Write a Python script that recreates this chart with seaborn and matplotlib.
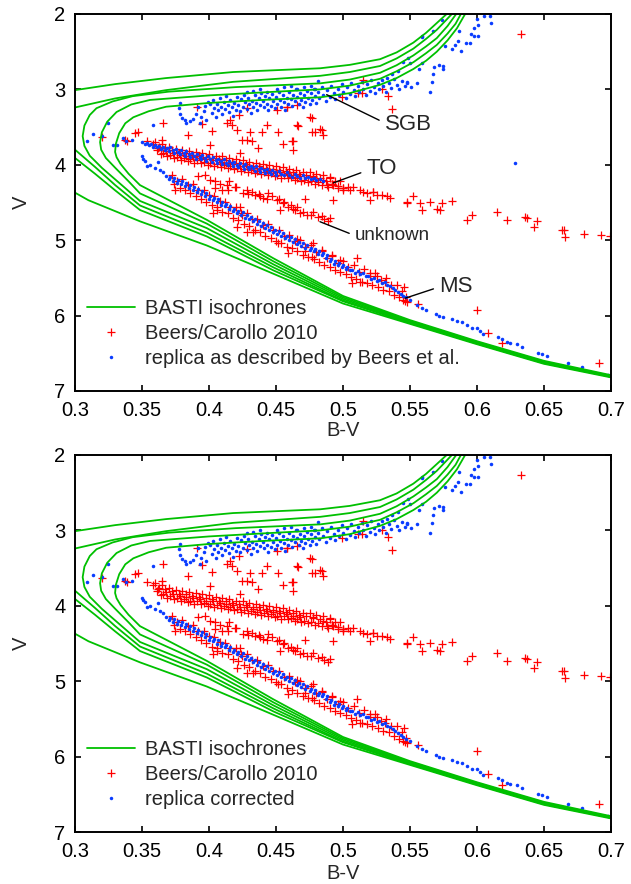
import pandas as pd
import matplotlib
matplotlib.use('Agg')
import matplotlib.pyplot as plt
import seaborn as sns
from matplotlib.lines import Line2D

# --- BASTI isochrones: lower MS -> turnoff -> subgiant branch (B-V, V)
iso0_bv = [0.70, 0.65, 0.60, 0.55, 0.50, 0.45, 0.3983, 0.3485, 0.31, 0.30, 0.29]
iso0_v = [6.82, 6.64, 6.38, 6.11, 5.84, 5.46, 5.07, 4.75, 4.47, 4.37, 4.28]
iso1_bv = [0.70, 0.65, 0.60, 0.55, 0.50, 0.448, 0.3983, 0.3485, 0.33, 0.315, 0.30, 0.285, 0.280,
           0.284, 0.30, 0.33, 0.368, 0.418, 0.483, 0.505, 0.5276, 0.540, 0.5525, 0.562, 0.570, 0.5786]
iso1_v = [6.81, 6.63, 6.37, 6.10, 5.81, 5.40, 4.95, 4.60, 4.34, 4.12, 3.91, 3.62, 3.40,
          3.17, 3.01, 2.93, 2.85, 2.77, 2.72, 2.675, 2.60, 2.51, 2.38, 2.25, 2.12, 1.98]
iso2_bv = [0.70, 0.65, 0.60, 0.55, 0.50, 0.448, 0.3983, 0.3485, 0.33, 0.315, 0.30, 0.292, 0.290,
           0.293, 0.30, 0.33, 0.368, 0.418, 0.483, 0.505, 0.5276, 0.540, 0.5525, 0.562, 0.570, 0.577, 0.5823]
iso2_v = [6.81, 6.63, 6.37, 6.09, 5.80, 5.36, 4.90, 4.54, 4.27, 4.03, 3.80, 3.62, 3.45,
          3.32, 3.24, 3.12, 3.01, 2.90, 2.82, 2.77, 2.69, 2.59, 2.46, 2.33, 2.21, 2.08, 1.98]
iso3_bv = [0.70, 0.65, 0.60, 0.55, 0.50, 0.448, 0.3983, 0.3485, 0.3336, 0.320, 0.311, 0.307, 0.3057,
           0.307, 0.311, 0.316, 0.328, 0.343, 0.37, 0.42, 0.483, 0.505, 0.5276, 0.540, 0.5525, 0.562,
           0.570, 0.578, 0.5853]
iso3_v = [6.80, 6.62, 6.36, 6.08, 5.78, 5.32, 4.84, 4.48, 4.25, 4.04, 3.88, 3.75, 3.62,
          3.48, 3.34, 3.25, 3.16, 3.09, 3.03, 2.97, 2.92, 2.87, 2.78, 2.68, 2.55, 2.43,
          2.32, 2.16, 1.98]
iso4_bv = [0.70, 0.65, 0.60, 0.55, 0.50, 0.448, 0.3983, 0.3485, 0.340, 0.330, 0.323, 0.3195, 0.3187,
           0.320, 0.324, 0.331, 0.342, 0.356, 0.40, 0.44, 0.483, 0.505, 0.5276, 0.540, 0.5525, 0.562,
           0.570, 0.578, 0.584, 0.5886]
iso4_v = [6.80, 6.61, 6.35, 6.07, 5.76, 5.28, 4.78, 4.38, 4.22, 4.04, 3.91, 3.80, 3.70,
          3.57, 3.43, 3.30, 3.20, 3.14, 3.08, 3.04, 3.00, 2.95, 2.86, 2.76, 2.64, 2.52,
          2.41, 2.26, 2.13, 1.98]
iso5_bv = [0.70, 0.65, 0.60, 0.55, 0.50, 0.448, 0.3983, 0.3485, 0.340, 0.334, 0.331, 0.3299, 0.3305,
           0.333, 0.3375, 0.3435, 0.355, 0.368, 0.40, 0.44, 0.483, 0.505, 0.5276, 0.540, 0.5525, 0.562,
           0.570, 0.578, 0.585, 0.5918]
iso5_v = [6.79, 6.60, 6.34, 6.06, 5.74, 5.24, 4.73, 4.27, 4.12, 3.99, 3.90, 3.83, 3.72,
          3.58, 3.45, 3.37, 3.29, 3.23, 3.18, 3.14, 3.105, 3.05, 2.94, 2.85, 2.73, 2.62,
          2.50, 2.35, 2.19, 1.98]

# --- Beers/Carollo 2010 (red crosses), same in both panels
red_sgb = [(0.4157, 3.41), (0.4169, 3.47), (0.4207, 3.54), (0.4020, 3.55), (0.3846, 3.60), (0.4306, 3.56),
           (0.4244, 3.67), (0.4281, 3.67), (0.4318, 3.69), (0.4393, 3.57), (0.4431, 3.47), (0.4518, 3.56),
           (0.4667, 3.49), (0.4754, 3.36), (0.4766, 3.57), (0.4841, 3.54), (0.4853, 3.61), (0.4555, 3.72),
           (0.4617, 3.69), (0.4630, 3.80), (0.4368, 3.78), (0.4008, 3.74), (0.4231, 3.85), (0.3535, 3.69),
           (0.3585, 3.72), (0.3622, 3.78), (0.3647, 3.67), (0.4505, 3.27), (0.4580, 3.23), (0.4654, 3.21),
           (0.4281, 3.25), (0.4227, 3.34), (0.5152, 2.88), (0.5289, 2.99), (0.5338, 3.09), (0.5363, 3.26),
           (0.4990, 3.10), (0.5114, 3.05), (0.5139, 3.05), (0.4766, 3.38), (0.4828, 3.52), (0.4790, 3.56),
           (0.3199, 3.63), (0.3386, 3.69), (0.3473, 3.56), (0.3450, 3.58), (0.3373, 3.67), (0.3659, 3.45),
           (0.3908, 3.23), (0.4579, 3.23), (0.4132, 3.45), (0.4654, 3.47), (0.4629, 3.69), (0.3950, 3.46)]
red_to = [(0.360, 3.70), (0.361, 3.81), (0.3625, 3.76), (0.364, 3.86),
          (0.365, 3.73), (0.366, 3.84), (0.3675, 3.78), (0.368, 3.82), (0.369, 3.89),
          (0.370, 3.76), (0.371, 3.87), (0.3725, 3.81), (0.373, 3.84), (0.374, 3.91),
          (0.375, 3.79), (0.376, 3.90), (0.3775, 3.84), (0.378, 3.87), (0.379, 3.94),
          (0.380, 3.80), (0.381, 3.91), (0.3825, 3.85), (0.383, 3.88), (0.384, 3.95),
          (0.385, 3.82), (0.386, 3.93), (0.3875, 3.87), (0.388, 3.90), (0.389, 3.97),
          (0.390, 3.83), (0.391, 3.94), (0.3925, 3.88), (0.393, 3.91), (0.394, 3.98),
          (0.395, 3.85), (0.396, 3.96), (0.3975, 3.90), (0.398, 3.93), (0.399, 4.00),
          (0.400, 3.86), (0.401, 3.97), (0.4025, 3.91), (0.403, 3.94), (0.404, 4.01),
          (0.405, 3.88), (0.406, 3.99), (0.4075, 3.93), (0.408, 3.96), (0.409, 4.03),
          (0.410, 3.89), (0.411, 4.00), (0.4125, 3.94), (0.413, 3.97), (0.414, 4.04),
          (0.415, 3.91), (0.416, 4.02), (0.4175, 3.96), (0.418, 3.99), (0.419, 4.06),
          (0.420, 3.93), (0.421, 4.04), (0.4225, 3.98), (0.423, 4.01), (0.424, 4.08),
          (0.425, 3.94), (0.426, 4.05), (0.4275, 3.99), (0.428, 4.02), (0.429, 4.09),
          (0.430, 3.96), (0.431, 4.07), (0.4325, 4.01), (0.433, 4.04), (0.434, 4.11),
          (0.435, 3.97), (0.436, 4.08), (0.4375, 4.02), (0.438, 4.05), (0.439, 4.12),
          (0.440, 3.99), (0.441, 4.10), (0.4425, 4.04), (0.443, 4.07), (0.444, 4.14),
          (0.445, 4.00), (0.446, 4.11), (0.4475, 4.05), (0.448, 4.08), (0.449, 4.15),
          (0.450, 4.02), (0.451, 4.13), (0.4525, 4.07), (0.453, 4.10), (0.454, 4.17),
          (0.455, 4.03), (0.456, 4.14), (0.4575, 4.08), (0.458, 4.11), (0.459, 4.18),
          (0.460, 4.05), (0.461, 4.16), (0.4625, 4.10), (0.463, 4.13), (0.464, 4.20),
          (0.465, 4.07), (0.466, 4.18), (0.4675, 4.12), (0.468, 4.15), (0.469, 4.22),
          (0.470, 4.09), (0.471, 4.20), (0.4725, 4.14), (0.474, 4.23),
          (0.475, 4.10), (0.476, 4.21), (0.4775, 4.15), (0.479, 4.25),
          (0.480, 4.12), (0.481, 4.23), (0.4825, 4.17), (0.484, 4.27),
          (0.485, 4.14), (0.487, 4.22), (0.489, 4.30), (0.490, 4.16), (0.492, 4.25),
          (0.494, 4.21), (0.496, 4.28), (0.498, 4.22), (0.500, 4.31)]
red_tail = [(0.4778, 4.16), (0.4853, 4.20), (0.4903, 4.18), (0.4928, 4.27), (0.5002, 4.31), (0.5052, 4.33),
            (0.5077, 4.29), (0.5152, 4.36), (0.5226, 4.36), (0.5289, 4.40), (0.5351, 4.44), (0.5475, 4.49),
            (0.5525, 4.42), (0.5575, 4.51), (0.5649, 4.49), (0.5736, 4.51), (0.5811, 4.48), (0.5587, 4.60),
            (0.5699, 4.58), (0.5724, 4.60), (0.5960, 4.67), (0.6147, 4.62), (0.6222, 4.73), (0.6358, 4.69),
            (0.6373, 4.70), (0.6445, 4.75), (0.6425, 4.82), (0.6632, 4.86), (0.6650, 4.87), (0.6657, 4.96),
            (0.6799, 4.92), (0.6923, 4.93), (0.6993, 4.94), (0.5923, 4.73), (0.5201, 4.47), (0.5475, 4.51),
            (0.4878, 4.27), (0.4916, 4.25), (0.4965, 4.31), (0.5003, 4.33), (0.5040, 4.30), (0.5127, 4.33),
            (0.5177, 4.38), (0.5227, 4.36), (0.5252, 4.40), (0.5326, 4.42)]
red_unknown = [(0.392, 4.15), (0.397, 4.14), (0.401, 4.20), (0.4045, 4.22), (0.408, 4.25), (0.4045, 4.31),
               (0.4132, 4.27), (0.4194, 4.29), (0.4095, 4.33), (0.4144, 4.34), (0.4256, 4.38), (0.4294, 4.39),
               (0.4343, 4.40), (0.4381, 4.42), (0.4430, 4.45), (0.4468, 4.42), (0.4505, 4.47), (0.4443, 4.37),
               (0.4555, 4.51), (0.4592, 4.56), (0.4642, 4.60), (0.4679, 4.64), (0.4729, 4.67), (0.4779, 4.62),
               (0.4816, 4.69), (0.4841, 4.68), (0.4891, 4.75), (0.4717, 4.45), (0.4630, 4.58), (0.4530, 4.60),
               (0.415, 4.22), (0.420, 4.30), (0.428, 4.34), (0.432, 4.36), (0.437, 4.39), (0.440, 4.44),
               (0.452, 4.45), (0.456, 4.49), (0.461, 4.54), (0.466, 4.56), (0.470, 4.63), (0.476, 4.66),
               (0.486, 4.72), (0.490, 4.70), (0.4928, 4.47)]
red_ms = [(0.372, 4.14), (0.374, 4.26), (0.376, 4.22), (0.378, 4.31),
          (0.380, 4.19), (0.382, 4.33), (0.384, 4.27), (0.386, 4.37),
          (0.388, 4.25), (0.390, 4.41), (0.392, 4.34), (0.394, 4.45),
          (0.396, 4.33), (0.398, 4.49), (0.400, 4.40), (0.402, 4.54),
          (0.404, 4.41), (0.406, 4.56), (0.408, 4.48), (0.410, 4.62),
          (0.412, 4.49), (0.414, 4.64), (0.416, 4.56), (0.418, 4.70),
          (0.420, 4.56), (0.422, 4.73), (0.424, 4.64), (0.426, 4.78),
          (0.428, 4.64), (0.430, 4.81), (0.432, 4.72), (0.434, 4.86),
          (0.436, 4.72), (0.438, 4.89), (0.440, 4.80), (0.442, 4.94),
          (0.444, 4.79), (0.446, 4.97), (0.448, 4.87), (0.450, 5.01),
          (0.452, 4.86), (0.454, 5.04), (0.456, 4.94), (0.458, 5.09),
          (0.460, 4.93), (0.462, 5.11), (0.464, 5.01), (0.466, 5.15),
          (0.468, 5.00), (0.470, 5.19), (0.472, 5.09), (0.474, 5.22),
          (0.476, 5.07), (0.478, 5.25), (0.480, 5.16), (0.482, 5.29),
          (0.484, 5.14), (0.486, 5.33), (0.488, 5.23), (0.490, 5.36),
          (0.492, 5.21), (0.494, 5.39), (0.496, 5.30), (0.498, 5.42),
          (0.500, 5.27), (0.502, 5.45), (0.504, 5.36), (0.506, 5.49),
          (0.508, 5.33), (0.510, 5.51), (0.512, 5.42), (0.514, 5.55),
          (0.516, 5.38), (0.518, 5.57), (0.520, 5.47), (0.522, 5.60),
          (0.524, 5.44), (0.526, 5.62), (0.528, 5.53), (0.530, 5.66),
          (0.532, 5.50), (0.534, 5.68), (0.536, 5.60), (0.538, 5.73),
          (0.540, 5.59), (0.542, 5.76), (0.544, 5.68), (0.546, 5.80), (0.5457, 5.62), (0.547, 5.75),
          (0.3746, 4.33), (0.4032, 4.64), (0.4057, 4.60), (0.4207, 4.82), (0.4281, 4.89), (0.4331, 4.89),
          (0.4244, 4.67), (0.4231, 4.56), (0.4518, 5.04), (0.4592, 5.17), (0.4654, 4.98), (0.4717, 5.15),
          (0.4766, 5.22), (0.4779, 5.04), (0.4841, 5.13), (0.4916, 5.20), (0.4978, 5.26), (0.5102, 5.24),
          (0.5065, 5.57), (0.5127, 5.55), (0.5202, 5.44), (0.5252, 5.48), (0.5314, 5.55), (0.5475, 5.82),
          (0.5450, 5.79)]
red_outliers = [(0.6328, 2.26), (0.5998, 5.92), (0.6084, 6.23), (0.6184, 6.37), (0.6913, 6.63), (0.5562, 5.84)]

# --- replica (blue dots)
blue_left = [(0.3087, 3.69), (0.3137, 3.59), (0.3199, 3.62), (0.3249, 3.45), (0.3286, 3.74), (0.3310, 3.74),
             (0.3360, 3.65), (0.3380, 3.68), (0.3423, 3.67), (0.3584, 3.47), (0.3497, 3.89), (0.3510, 3.92),
             (0.3520, 3.95), (0.3540, 4.02), (0.3560, 4.00), (0.3622, 3.96), (0.3634, 4.07), (0.3660, 4.10),
             (0.3595, 4.04)]
blue_sgb = [(0.3775, 3.25), (0.3784, 3.18), (0.3786, 3.33), (0.380, 3.38), (0.382, 3.41), (0.383, 3.45),
            (0.386, 3.42), (0.388, 3.39), (0.390, 3.33), (0.392, 3.23), (0.394, 3.36), (0.396, 3.29),
            (0.398, 3.40), (0.399, 3.17), (0.393, 3.44), (0.397, 3.22),
            (0.401, 3.20), (0.402, 3.31), (0.403, 3.14), (0.404, 3.25), (0.405, 3.36), (0.406, 3.19),
            (0.407, 3.28), (0.408, 3.11), (0.409, 3.23), (0.410, 3.33), (0.411, 3.17), (0.412, 3.26),
            (0.413, 3.09), (0.414, 3.21), (0.415, 3.30), (0.416, 3.14), (0.417, 3.24), (0.418, 3.35),
            (0.419, 3.18), (0.420, 3.27), (0.421, 3.10), (0.422, 3.21), (0.423, 3.29), (0.424, 3.13),
            (0.425, 3.23), (0.426, 3.07), (0.427, 3.17), (0.428, 3.26), (0.429, 3.12), (0.430, 3.20),
            (0.431, 3.31), (0.432, 3.15), (0.433, 3.24), (0.434, 3.08), (0.435, 3.18), (0.436, 3.27),
            (0.437, 3.11), (0.438, 3.21), (0.439, 3.05), (0.440, 3.15), (0.441, 3.24), (0.442, 3.09),
            (0.443, 3.19), (0.444, 3.28), (0.445, 3.12), (0.446, 3.22), (0.447, 3.06), (0.448, 3.16),
            (0.449, 3.25), (0.450, 3.10), (0.451, 3.19), (0.452, 3.04), (0.453, 3.14), (0.454, 3.23),
            (0.455, 3.08), (0.456, 3.17), (0.457, 3.27), (0.458, 3.11), (0.459, 3.20), (0.460, 3.03),
            (0.461, 3.13), (0.462, 3.22), (0.463, 3.07), (0.464, 3.16), (0.465, 3.00), (0.466, 3.10),
            (0.467, 3.19), (0.468, 3.05), (0.469, 3.14), (0.470, 3.23), (0.471, 3.08), (0.472, 3.17),
            (0.473, 3.02), (0.474, 3.11), (0.475, 3.20), (0.476, 3.05), (0.477, 3.14), (0.478, 2.99),
            (0.479, 3.09), (0.480, 3.18),
            (0.481, 3.03), (0.482, 3.12), (0.484, 2.97), (0.485, 3.07), (0.487, 3.15), (0.488, 3.01),
            (0.490, 3.10), (0.491, 2.95), (0.493, 3.05), (0.494, 3.13), (0.496, 2.99), (0.497, 3.08),
            (0.499, 2.93), (0.500, 3.03), (0.502, 3.11), (0.503, 2.97), (0.505, 3.06), (0.506, 2.91),
            (0.508, 3.01), (0.509, 3.09), (0.511, 2.95), (0.512, 3.04), (0.514, 2.90), (0.515, 2.99),
            (0.517, 3.07), (0.518, 2.93), (0.520, 3.02), (0.521, 2.88), (0.523, 2.97), (0.524, 3.05),
            (0.526, 2.92), (0.527, 3.00), (0.529, 2.87), (0.530, 2.96), (0.532, 3.03), (0.534, 2.91),
            (0.536, 2.98), (0.538, 2.86), (0.540, 2.94), (0.542, 3.00), (0.544, 2.89), (0.546, 2.95),
            (0.548, 2.92), (0.551, 2.97),
            (0.428, 3.04), (0.433, 3.02), (0.438, 3.00), (0.443, 3.04), (0.451, 2.99), (0.456, 2.97),
            (0.461, 2.95), (0.466, 3.00), (0.471, 2.97), (0.476, 2.95), (0.481, 2.89), (0.479, 2.99),
            (0.5736, 2.08), (0.5674, 2.23), (0.5592, 2.29), (0.5445, 2.64), (0.5587, 2.65), (0.5570, 2.73),
            (0.5682, 2.70), (0.5716, 2.68), (0.5749, 2.69), (0.5744, 2.73), (0.5674, 2.79), (0.5662, 2.90),
            (0.5550, 2.92), (0.5475, 2.90), (0.5413, 2.76), (0.5363, 2.79), (0.5326, 2.85), (0.5761, 2.42),
            (0.5811, 2.47), (0.5836, 2.41), (0.5861, 2.36), (0.5881, 2.49), (0.5918, 2.39), (0.5948, 2.39),
            (0.5955, 2.27), (0.5980, 2.29), (0.6005, 2.29), (0.5980, 2.18), (0.6005, 2.14), (0.5998, 2.07),
            (0.6055, 2.03), (0.6097, 2.03), (0.6102, 2.12), (0.5868, 2.23), (0.5649, 3.03), (0.5500, 2.65),
            (0.5488, 2.59), (0.5587, 2.30)]
blue_to = [(0.350, 3.70), (0.352, 3.72), (0.354, 3.71), (0.355, 3.74), (0.357, 3.73), (0.358, 3.76),
           (0.360, 3.74), (0.361, 3.77), (0.363, 3.75), (0.364, 3.79), (0.366, 3.76), (0.367, 3.80),
           (0.369, 3.78), (0.370, 3.82), (0.371, 3.77), (0.373, 3.81), (0.374, 3.84), (0.375, 3.79),
           (0.377, 3.83), (0.378, 3.86), (0.379, 3.81), (0.381, 3.85), (0.382, 3.88), (0.383, 3.82),
           (0.385, 3.86), (0.386, 3.90), (0.387, 3.84), (0.389, 3.88), (0.390, 3.92), (0.391, 3.86),
           (0.393, 3.90), (0.394, 3.93), (0.395, 3.87), (0.397, 3.91), (0.398, 3.95), (0.399, 3.89),
           (0.401, 3.92), (0.402, 3.96), (0.403, 3.90), (0.405, 3.94), (0.406, 3.97), (0.407, 3.92),
           (0.409, 3.95), (0.410, 3.99), (0.411, 3.93), (0.413, 3.97), (0.414, 4.00), (0.415, 3.95),
           (0.417, 3.98), (0.418, 4.02), (0.419, 3.96), (0.421, 4.00), (0.422, 4.03), (0.423, 3.98),
           (0.425, 4.01), (0.426, 4.05), (0.427, 3.99), (0.429, 4.03), (0.430, 4.06), (0.431, 4.01),
           (0.433, 4.04), (0.434, 4.08), (0.435, 4.02), (0.437, 4.06), (0.438, 4.09), (0.439, 4.04),
           (0.441, 4.07), (0.442, 4.11), (0.443, 4.05), (0.445, 4.09), (0.446, 4.12), (0.447, 4.07),
           (0.449, 4.10), (0.450, 4.13), (0.452, 4.08), (0.454, 4.12), (0.456, 4.14), (0.458, 4.10),
           (0.460, 4.13), (0.462, 4.16), (0.464, 4.12), (0.466, 4.15), (0.468, 4.17), (0.470, 4.14),
           (0.472, 4.18), (0.474, 4.16), (0.476, 4.19), (0.478, 4.17), (0.480, 4.20), (0.483, 4.19),
           (0.485, 4.21), (0.6284, 3.98)]
blue_ms = [(0.368, 4.15), (0.370, 4.19), (0.371, 4.16), (0.373, 4.21), (0.374, 4.18), (0.376, 4.24),
           (0.377, 4.20), (0.379, 4.26), (0.380, 4.22), (0.382, 4.28), (0.383, 4.24), (0.385, 4.31),
           (0.386, 4.27), (0.388, 4.33), (0.389, 4.29), (0.391, 4.36), (0.392, 4.32), (0.394, 4.39),
           (0.395, 4.35), (0.397, 4.42), (0.398, 4.38), (0.400, 4.45), (0.401, 4.41), (0.403, 4.47),
           (0.404, 4.44), (0.406, 4.50), (0.407, 4.46), (0.409, 4.53), (0.410, 4.49), (0.412, 4.55),
           (0.413, 4.52), (0.415, 4.58), (0.416, 4.55), (0.418, 4.61), (0.419, 4.58), (0.421, 4.64),
           (0.422, 4.61), (0.424, 4.67), (0.425, 4.63), (0.427, 4.70), (0.428, 4.66), (0.430, 4.72),
           (0.431, 4.69), (0.433, 4.75), (0.434, 4.72), (0.436, 4.78), (0.437, 4.74), (0.439, 4.81),
           (0.440, 4.77), (0.442, 4.84), (0.443, 4.80), (0.445, 4.86), (0.446, 4.83), (0.448, 4.89),
           (0.449, 4.86), (0.451, 4.92), (0.452, 4.88), (0.454, 4.94), (0.455, 4.91), (0.457, 4.97),
           (0.458, 4.94), (0.460, 5.00), (0.461, 4.96), (0.463, 5.02), (0.464, 4.99), (0.466, 5.05),
           (0.467, 5.02), (0.469, 5.08), (0.470, 5.04), (0.472, 5.10), (0.473, 5.07), (0.475, 5.13),
           (0.476, 5.10), (0.478, 5.15), (0.479, 5.12), (0.481, 5.18), (0.482, 5.15), (0.484, 5.20),
           (0.485, 5.17), (0.487, 5.23), (0.488, 5.20), (0.490, 5.28), (0.491, 5.25), (0.493, 5.31),
           (0.494, 5.28), (0.496, 5.33), (0.497, 5.30), (0.499, 5.36), (0.500, 5.33), (0.502, 5.38),
           (0.503, 5.35), (0.505, 5.40), (0.507, 5.39), (0.509, 5.43), (0.511, 5.41), (0.513, 5.45),
           (0.515, 5.44), (0.517, 5.48), (0.519, 5.47), (0.521, 5.51), (0.523, 5.50), (0.525, 5.54),
           (0.527, 5.53), (0.529, 5.57), (0.531, 5.56), (0.533, 5.60), (0.535, 5.61), (0.537, 5.64),
           (0.539, 5.66), (0.541, 5.69), (0.543, 5.71), (0.545, 5.74), (0.547, 5.76)]
blue_tail = [(0.5500, 5.79), (0.5550, 5.86), (0.5587, 5.90), (0.5620, 5.92), (0.5694, 5.98), (0.5719, 6.00),
             (0.5749, 6.02), (0.5811, 6.05), (0.5848, 6.07), (0.5886, 6.09), (0.5923, 6.12), (0.5960, 6.16),
             (0.5998, 6.17), (0.6022, 6.20), (0.6047, 6.24), (0.6159, 6.29), (0.6184, 6.31), (0.6222, 6.35),
             (0.6246, 6.36), (0.6296, 6.38), (0.6333, 6.42), (0.6458, 6.49), (0.6483, 6.51), (0.6525, 6.54),
             (0.6681, 6.63), (0.6781, 6.68), (0.6975, 6.79)]

x_ticks = [0.3, 0.35, 0.4, 0.45, 0.5, 0.55, 0.6, 0.65, 0.7]
x_labels = ['0.3', '0.35', '0.4', '0.45', '0.5', '0.55', '0.6', '0.65', '0.7']
y_ticks = [2, 3, 4, 5, 6, 7]

GREEN = '#00c000'
RED = '#ff0000'
BLUE = '#0a3cff'
FS = 14.5

sns.set_style('ticks')
plt.rcParams['font.family'] = ['Liberation Sans', 'DejaVu Sans']

tracks = [(iso0_bv, iso0_v), (iso1_bv, iso1_v), (iso2_bv, iso2_v),
          (iso3_bv, iso3_v), (iso4_bv, iso4_v), (iso5_bv, iso5_v)]
iso_df = pd.concat([pd.DataFrame({'bv': b, 'v': v, 'track': i}) for i, (b, v) in enumerate(tracks)],
                   ignore_index=True)
red_df = pd.DataFrame(red_sgb + red_to + red_tail + red_unknown + red_ms + red_outliers, columns=['bv', 'v'])
blue_top = pd.DataFrame(blue_left + blue_sgb + blue_to + blue_ms + blue_tail, columns=['bv', 'v'])
blue_bottom = pd.DataFrame(blue_left + blue_sgb + blue_ms + blue_tail, columns=['bv', 'v'])


def draw_panel(ax, blue_df, blue_label, xlabel_y):
    sns.lineplot(data=iso_df, x='bv', y='v', units='track', estimator=None, sort=False,
                 color=GREEN, linewidth=1.3, ax=ax, legend=False)
    sns.scatterplot(data=red_df, x='bv', y='v', marker='+', s=36, color=RED,
                    linewidth=0.9, ax=ax, legend=False)
    sns.scatterplot(data=blue_df, x='bv', y='v', marker='o', s=6.5, color=BLUE,
                    linewidth=0, ax=ax, legend=False)
    ax.set_xlim(0.3, 0.7)
    ax.set_ylim(7, 2)
    ax.set_xticks(x_ticks)
    ax.set_xticklabels(x_labels)
    ax.set_yticks(y_ticks)
    ax.tick_params(direction='in', length=4.5, width=1.2, top=True, right=True,
                   labelsize=FS, pad=7, colors='black')
    for sp in ax.spines.values():
        sp.set_linewidth(1.4)
        sp.set_color('black')
    ax.set_xlabel('B-V', fontsize=FS)
    ax.set_ylabel('V', fontsize=FS)
    ax.xaxis.set_label_coords(0.5, xlabel_y)
    ax.yaxis.set_label_coords(-0.083, 0.5)

    handles = [Line2D([], [], color=GREEN, lw=1.3),
               Line2D([], [], marker='+', ls='', color=RED, ms=6, mew=0.9),
               Line2D([], [], marker='o', ls='', color=BLUE, ms=2.5, mew=0)]
    labels = ['BASTI isochrones', 'Beers/Carollo 2010', blue_label]
    ax.legend(handles, labels, loc='center left', bbox_to_anchor=(0.0224, 0.153),
              frameon=False, borderpad=0, borderaxespad=0, handlelength=2.4,
              handletextpad=0.5, labelspacing=0.3, fontsize=FS, numpoints=1)


fig = plt.figure(figsize=(6.31, 8.84), dpi=100)
ax_top = fig.add_axes([0.1189, 0.5577, 0.8494, 0.4265])
ax_bot = fig.add_axes([0.1189, 0.0588, 0.8494, 0.4265])

draw_panel(ax_top, blue_top, 'replica as described by Beers et al.', -0.080)
draw_panel(ax_bot, blue_bottom, 'replica corrected', -0.085)

# labels of the sequences in the upper panel
notes = [('SGB', (0.4878, 3.07), (0.5313, 3.46), 16, 0.55),
         ('TO', (0.4928, 4.24), (0.5177, 4.05), 16, 0.4),
         ('unknown', (0.4828, 4.755), (0.5090, 4.94), 13.5, 0.5),
         ('MS', (0.5463, 5.77), (0.5719, 5.62), 16, 0.5)]
for text, xy, xytext, size, rel in notes:
    ax_top.annotate(text, xy=xy, xytext=xytext, fontsize=size, ha='left', va='center',
                    arrowprops=dict(arrowstyle='-', color='black', lw=1.0,
                                    shrinkA=2, shrinkB=0, relpos=(0, rel)))

fig.savefig('out.png', dpi=100)
